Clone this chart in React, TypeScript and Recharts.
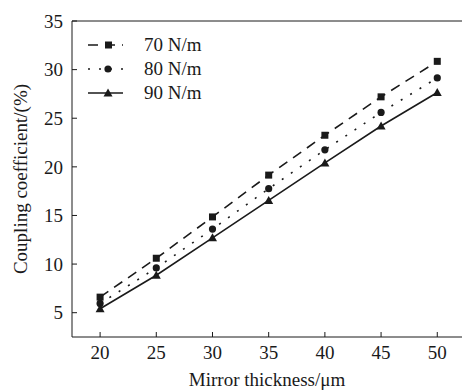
import { LineChart, Line, XAxis, YAxis, ReferenceLine } from "recharts";

const thickness = [20, 25, 30, 35, 40, 45, 50];
const k70 = [6.6, 10.6, 14.85, 19.15, 23.25, 27.2, 30.85];
const k80 = [5.95, 9.6, 13.6, 17.75, 21.75, 25.6, 29.15];
const k90 = [5.4, 8.85, 12.7, 16.55, 20.4, 24.2, 27.65];
const xTicks = [20, 25, 30, 35, 40, 45, 50];
const yTicks = [5, 10, 15, 20, 25, 30, 35];

const data = thickness.map((t, i) => ({ t, a: k70[i], b: k80[i], c: k90[i] }));

const INK = "#1a1a1a";
const FONT = "'Liberation Serif', 'Times New Roman', serif";

function Square(props: any) {
  const { cx, cy } = props;
  return <rect x={cx - 3.5} y={cy - 3.5} width={7} height={7} fill={INK} />;
}
function Dot(props: any) {
  const { cx, cy } = props;
  return <circle cx={cx} cy={cy} r={3.6} fill={INK} />;
}
function Tri(props: any) {
  const { cx, cy } = props;
  return <path d={`M${cx},${cy - 4.5} L${cx + 4.5},${cy + 3.5} L${cx - 4.5},${cy + 3.5} Z`} fill={INK} />;
}

const legendRows = [
  { name: "70 N/m", dash: "10 7", mark: "square" },
  { name: "80 N/m", dash: "2 9", mark: "circle" },
  { name: "90 N/m", dash: undefined, mark: "tri" },
];

// legend drawn as an overlay so it doesn't steal plot space
function LegendBox() {
  return (
    <div style={{ position: "absolute", left: 86, top: 33, fontFamily: FONT, fontSize: 19, color: INK, lineHeight: "24px" }}>
      {legendRows.map((r) => (
        <div key={r.name} style={{ display: "flex", alignItems: "center", height: 24 }}>
          <svg width={52} height={14}>
            <line x1={2} y1={7} x2={37} y2={7} stroke={INK} strokeWidth={1.6} strokeDasharray={r.dash} />
            {r.mark === "square" && <rect x={19} y={3.5} width={7} height={7} fill={INK} />}
            {r.mark === "circle" && <circle cx={22} cy={7} r={3.6} fill={INK} />}
            {r.mark === "tri" && <path d="M22,2.5 L26.5,10.5 L17.5,10.5 Z" fill={INK} />}
          </svg>
          <span style={{ marginLeft: 6 }}>{r.name}</span>
        </div>
      ))}
    </div>
  );
}

export default function App() {
  return (
    <div style={{ position: "absolute", left: 0, top: 0, width: 462, height: 390, background: "#fff" }}>
      <LineChart width={462} height={390} data={data} margin={{ top: 21, right: 0, bottom: 0, left: 0 }}>
        <XAxis
          dataKey="t"
          type="number"
          domain={[17.5, 52.2]}
          ticks={xTicks}
          allowDataOverflow
          height={53}
          stroke={INK}
          tickSize={-5}
          tickMargin={14}
          tick={{ fill: INK, fontSize: 19, fontFamily: FONT }}
          label={{ value: "Mirror thickness/μm", position: "insideBottom", offset: 4, fill: INK, fontSize: 19, fontFamily: FONT }}
        />
        <YAxis
          type="number"
          domain={[2.5, 35]}
          ticks={yTicks}
          allowDataOverflow
          width={72}
          stroke={INK}
          tickSize={-5}
          tickMargin={14}
          tick={{ fill: INK, fontSize: 19, fontFamily: FONT }}
          label={{ value: "Coupling coefficient/(%)", angle: -90, position: "insideLeft", offset: 20, fill: INK, fontSize: 19, fontFamily: FONT, style: { textAnchor: "middle" } }}
        />
        <ReferenceLine y={35} stroke={INK} strokeWidth={1} />
        <Line dataKey="a" stroke={INK} strokeWidth={1.6} strokeDasharray="10 7" dot={<Square />} isAnimationActive={false} />
        <Line dataKey="b" stroke={INK} strokeWidth={1.6} strokeDasharray="2 9" dot={<Dot />} isAnimationActive={false} />
        <Line dataKey="c" stroke={INK} strokeWidth={1.6} dot={<Tri />} isAnimationActive={false} />
      </LineChart>
      <LegendBox />
    </div>
  );
}
